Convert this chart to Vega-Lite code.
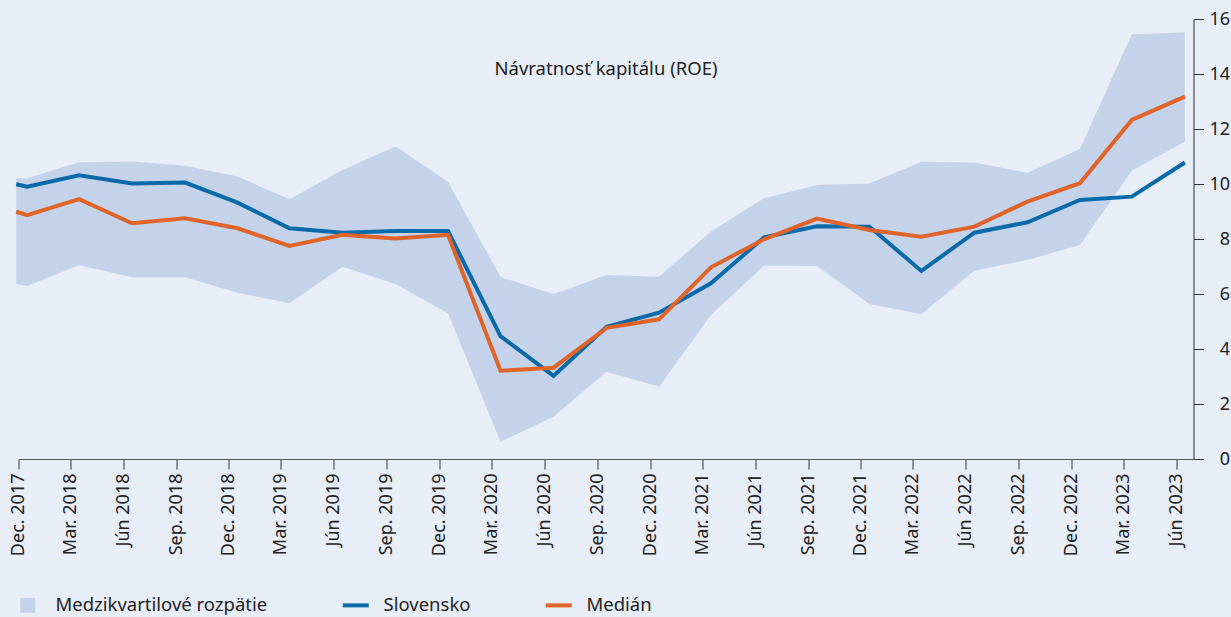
{
  "$schema": "https://vega.github.io/schema/vega-lite/v6.json",
  "width": 1175,
  "height": 440,
  "autosize": {"type": "none"},
  "padding": {"left": 18.5, "top": 19, "right": 37.5, "bottom": 158},
  "background": "#e8eef8",
  "config": {
    "view": {"stroke": null},
    "font": "Noto Sans",
    "axis": {"labelColor": "#222", "labelFont": "Noto Sans"},
    "legend": {"labelFont": "Noto Sans", "title": null, "labelLimit": 400}
  },
  "title": {
    "text": "Návratnosť kapitálu (ROE)",
    "anchor": "middle",
    "orient": "top",
    "offset": -83,
    "baseline": "alphabetic",
    "fontSize": 18.5,
    "fontWeight": "normal",
    "color": "#222"
  },
  "datasets": {
    "band": [
      {"date": "2017-11-27", "low": 6.36, "high": 10.21},
      {"date": "2017-12-16", "low": 6.29, "high": 10.21},
      {"date": "2018-03-16", "low": 7.05, "high": 10.79},
      {"date": "2018-06-16", "low": 6.61, "high": 10.82},
      {"date": "2018-09-16", "low": 6.61, "high": 10.66},
      {"date": "2018-12-16", "low": 6.05, "high": 10.27},
      {"date": "2019-03-16", "low": 5.66, "high": 9.45},
      {"date": "2019-06-16", "low": 6.99, "high": 10.51},
      {"date": "2019-09-16", "low": 6.36, "high": 11.36},
      {"date": "2019-12-16", "low": 5.30, "high": 10.08},
      {"date": "2020-03-16", "low": 0.63, "high": 6.62},
      {"date": "2020-06-16", "low": 1.54, "high": 6.0},
      {"date": "2020-09-16", "low": 3.17, "high": 6.69},
      {"date": "2020-12-16", "low": 2.63, "high": 6.63},
      {"date": "2021-03-16", "low": 5.24, "high": 8.27},
      {"date": "2021-06-16", "low": 7.03, "high": 9.48},
      {"date": "2021-09-16", "low": 7.02, "high": 9.96},
      {"date": "2021-12-16", "low": 5.64, "high": 10.02},
      {"date": "2022-03-16", "low": 5.26, "high": 10.81},
      {"date": "2022-06-16", "low": 6.85, "high": 10.78},
      {"date": "2022-09-16", "low": 7.24, "high": 10.41},
      {"date": "2022-12-16", "low": 7.78, "high": 11.27},
      {"date": "2023-03-16", "low": 10.48, "high": 15.45},
      {"date": "2023-06-16", "low": 11.54, "high": 15.51}
    ],
    "lines": [
      {"date": "2017-11-27", "series": "Slovensko", "value": 9.99},
      {"date": "2017-12-16", "series": "Slovensko", "value": 9.90},
      {"date": "2018-03-16", "series": "Slovensko", "value": 10.32},
      {"date": "2018-06-16", "series": "Slovensko", "value": 10.02},
      {"date": "2018-09-16", "series": "Slovensko", "value": 10.05},
      {"date": "2018-12-16", "series": "Slovensko", "value": 9.32},
      {"date": "2019-03-16", "series": "Slovensko", "value": 8.39},
      {"date": "2019-06-16", "series": "Slovensko", "value": 8.23},
      {"date": "2019-09-16", "series": "Slovensko", "value": 8.29},
      {"date": "2019-12-16", "series": "Slovensko", "value": 8.29},
      {"date": "2020-03-16", "series": "Slovensko", "value": 4.47},
      {"date": "2020-06-16", "series": "Slovensko", "value": 3.02},
      {"date": "2020-09-16", "series": "Slovensko", "value": 4.81},
      {"date": "2020-12-16", "series": "Slovensko", "value": 5.32},
      {"date": "2021-03-16", "series": "Slovensko", "value": 6.39},
      {"date": "2021-06-16", "series": "Slovensko", "value": 8.06},
      {"date": "2021-09-16", "series": "Slovensko", "value": 8.46},
      {"date": "2021-12-16", "series": "Slovensko", "value": 8.45},
      {"date": "2022-03-16", "series": "Slovensko", "value": 6.84},
      {"date": "2022-06-16", "series": "Slovensko", "value": 8.23},
      {"date": "2022-09-16", "series": "Slovensko", "value": 8.61},
      {"date": "2022-12-16", "series": "Slovensko", "value": 9.42},
      {"date": "2023-03-16", "series": "Slovensko", "value": 9.54},
      {"date": "2023-06-16", "series": "Slovensko", "value": 10.78},
      {"date": "2017-11-27", "series": "Medián", "value": 8.99},
      {"date": "2017-12-16", "series": "Medián", "value": 8.87},
      {"date": "2018-03-16", "series": "Medián", "value": 9.45},
      {"date": "2018-06-16", "series": "Medián", "value": 8.57},
      {"date": "2018-09-16", "series": "Medián", "value": 8.75},
      {"date": "2018-12-16", "series": "Medián", "value": 8.39},
      {"date": "2019-03-16", "series": "Medián", "value": 7.75},
      {"date": "2019-06-16", "series": "Medián", "value": 8.15},
      {"date": "2019-09-16", "series": "Medián", "value": 8.02},
      {"date": "2019-12-16", "series": "Medián", "value": 8.15},
      {"date": "2020-03-16", "series": "Medián", "value": 3.21},
      {"date": "2020-06-16", "series": "Medián", "value": 3.32},
      {"date": "2020-09-16", "series": "Medián", "value": 4.77},
      {"date": "2020-12-16", "series": "Medián", "value": 5.08},
      {"date": "2021-03-16", "series": "Medián", "value": 6.97},
      {"date": "2021-06-16", "series": "Medián", "value": 7.99},
      {"date": "2021-09-16", "series": "Medián", "value": 8.74},
      {"date": "2021-12-16", "series": "Medián", "value": 8.33},
      {"date": "2022-03-16", "series": "Medián", "value": 8.08},
      {"date": "2022-06-16", "series": "Medián", "value": 8.45},
      {"date": "2022-09-16", "series": "Medián", "value": 9.36},
      {"date": "2022-12-16", "series": "Medián", "value": 10.03},
      {"date": "2023-03-16", "series": "Medián", "value": 12.33},
      {"date": "2023-06-16", "series": "Medián", "value": 13.18}
    ]
  },
  "layer": [
    {
      "data": {"name": "band"},
      "mark": {"type": "area", "clip": false},
      "encoding": {
        "x": {
          "field": "date",
          "type": "temporal",
          "scale": {
            "type": "utc",
            "nice": false,
            "domain": [
              {"year": 2017, "month": 12, "date": 1, "utc": true},
              {"year": 2023, "month": 7, "date": 1, "utc": true}
            ]
          },
          "axis": {
            "title": null,
            "grid": false,
            "values": [
              {"year": 2017, "month": 12, "date": 1, "utc": true},
              {"year": 2018, "month": 3, "date": 1, "utc": true},
              {"year": 2018, "month": 6, "date": 1, "utc": true},
              {"year": 2018, "month": 9, "date": 1, "utc": true},
              {"year": 2018, "month": 12, "date": 1, "utc": true},
              {"year": 2019, "month": 3, "date": 1, "utc": true},
              {"year": 2019, "month": 6, "date": 1, "utc": true},
              {"year": 2019, "month": 9, "date": 1, "utc": true},
              {"year": 2019, "month": 12, "date": 1, "utc": true},
              {"year": 2020, "month": 3, "date": 1, "utc": true},
              {"year": 2020, "month": 6, "date": 1, "utc": true},
              {"year": 2020, "month": 9, "date": 1, "utc": true},
              {"year": 2020, "month": 12, "date": 1, "utc": true},
              {"year": 2021, "month": 3, "date": 1, "utc": true},
              {"year": 2021, "month": 6, "date": 1, "utc": true},
              {"year": 2021, "month": 9, "date": 1, "utc": true},
              {"year": 2021, "month": 12, "date": 1, "utc": true},
              {"year": 2022, "month": 3, "date": 1, "utc": true},
              {"year": 2022, "month": 6, "date": 1, "utc": true},
              {"year": 2022, "month": 9, "date": 1, "utc": true},
              {"year": 2022, "month": 12, "date": 1, "utc": true},
              {"year": 2023, "month": 3, "date": 1, "utc": true},
              {"year": 2023, "month": 6, "date": 1, "utc": true}
            ],
            "labelExpr": "['Jan.','Feb.','Mar.','Apr.','Máj','Jún','Júl','Aug.','Sep.','Okt.','Nov.','Dec.'][utcmonth(datum.value)] + ' ' + utcyear(datum.value)",
            "labelAngle": -90,
            "labelAlign": "right",
            "labelBaseline": "middle",
            "labelFlush": false,
            "labelOverlap": false,
            "labelPadding": 4,
            "labelFontSize": 18,
            "tickSize": 10,
            "tickColor": "#333",
            "domainColor": "#555"
          }
        },
        "y": {
          "field": "low",
          "type": "quantitative",
          "scale": {"domain": [0, 16], "nice": false},
          "axis": {
            "orient": "right",
            "title": null,
            "grid": false,
            "values": [0, 2, 4, 6, 8, 10, 12, 14, 16],
            "tickSize": 10,
            "tickColor": "#333",
            "domainColor": "#333",
            "labelAlign": "right",
            "labelPadding": 26,
            "labelFontSize": 18
          }
        },
        "y2": {"field": "high"},
        "color": {
          "datum": "Medzikvartilové rozpätie",
          "type": "nominal",
          "scale": {
            "domain": ["Medzikvartilové rozpätie", "Slovensko", "Medián"],
            "range": ["#c5d3ea", "#0a6aa9", "#e0632a"]
          },
          "legend": {
            "title": null,
            "orient": "none",
            "direction": "horizontal",
            "legendX": 0,
            "legendY": 577,
            "padding": 0,
            "symbolType": "stroke",
            "symbolSize": 676,
            "symbolStrokeWidth": 4,
            "labelFontSize": 18.5,
            "labelColor": "#222",
            "labelLimit": 400,
            "labelOffset": 18.5,
            "columnPadding": 67,
            "encode": {
              "symbols": {
                "update": {
                  "shape": {"signal": "datum.value === 'Medzikvartilové rozpätie' ? 'square' : 'stroke'"},
                  "size": {"signal": "datum.value === 'Medzikvartilové rozpätie' ? 225 : 676"},
                  "fill": {"signal": "datum.value === 'Medzikvartilové rozpätie' ? '#c5d3ea' : 'transparent'"},
                  "stroke": {"signal": "datum.value === 'Medzikvartilové rozpätie' ? 'transparent' : (datum.value === 'Slovensko' ? '#0a6aa9' : '#e0632a')"},
                  "strokeWidth": {"signal": "datum.value === 'Medzikvartilové rozpätie' ? 0 : 4"},
                  "opacity": {"value": 1}
                }
              }
            }
          }
        }
      }
    },
    {
      "data": {"name": "lines"},
      "mark": {"type": "line", "strokeWidth": 4, "clip": false},
      "encoding": {
        "x": {"field": "date", "type": "temporal"},
        "y": {"field": "value", "type": "quantitative"},
        "color": {"field": "series", "type": "nominal", "legend": {"title": null}}
      }
    }
  ]
}
